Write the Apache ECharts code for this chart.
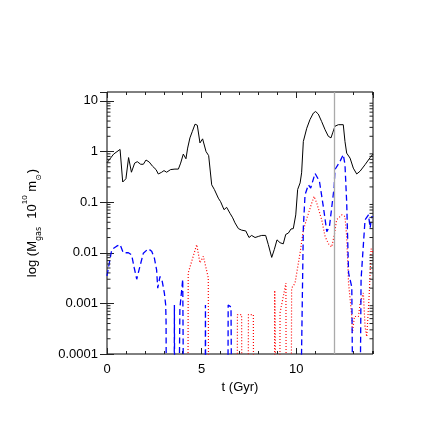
<!DOCTYPE html>
<html>
<head>
<meta charset="utf-8">
<script src="https://cdn.jsdelivr.net/npm/echarts@6/dist/echarts.min.js"></script>
<style>
html,body{margin:0;padding:0;background:#fff;}
#chart{width:436px;height:436px;}
</style>
</head>
<body>
<div id="chart"></div>
<script>
// ---- data ----
const xTickLabels = ['0', '5', '10'];
const yTickLabels = ['0.0001', '0.001', '0.01', '0.1', '1', '10'];
const yMinorTicks = [
  0.0002,0.0003,0.0004,0.0005,0.0006,0.0007,0.0008,0.0009,
  0.002,0.003,0.004,0.005,0.006,0.007,0.008,0.009,
  0.02,0.03,0.04,0.05,0.06,0.07,0.08,0.09,
  0.2,0.3,0.4,0.5,0.6,0.7,0.8,0.9,
  2,3,4,5,6,7,8,9
];
const markerT = 12;

const solidT = [0.0,0.35,0.69,0.83,1.0,1.14,1.29,1.46,1.6,1.78,1.92,2.06,2.23,2.41,2.59,2.71,2.89,3.01,3.15,3.36,3.59,3.77,3.89,4.03,4.17,4.26,4.38,4.51,4.65,4.77,4.91,5.05,5.23,5.37,5.53,5.67,5.88,6.0,6.18,6.32,6.5,6.64,6.76,6.94,7.11,7.33,7.5,7.64,7.82,7.99,8.17,8.38,8.52,8.7,8.84,8.98,9.14,9.31,9.44,9.58,9.72,9.84,9.93,9.97,10.07,10.2,10.28,10.37,10.55,10.72,10.9,11.02,11.16,11.34,11.52,11.69,11.83,11.92,12.04,12.22,12.48,12.57,12.66,12.84,13.01,13.19,13.37,13.63,13.9,14.05];
const solidVal = [0.60,0.89,1.10,0.25,0.29,0.76,0.39,0.59,0.63,0.56,0.56,0.68,0.62,0.51,0.44,0.36,0.39,0.42,0.39,0.44,0.45,0.45,0.59,0.89,0.72,1.17,1.86,2.51,3.47,3.31,1.48,1.78,1.0,0.83,0.22,0.178,0.12,0.102,0.071,0.079,0.060,0.049,0.039,0.030,0.028,0.027,0.020,0.022,0.020,0.021,0.022,0.022,0.0145,0.0081,0.0117,0.018,0.0158,0.015,0.023,0.0245,0.0295,0.030,0.0295,0.056,0.178,0.24,0.38,1.58,2.88,4.27,5.75,6.17,5.5,3.89,2.69,2.0,1.86,2.34,3.16,3.39,3.39,1.58,0.93,0.74,0.47,0.36,0.41,0.55,0.76,0.89];

const dashT = [0.0,0.25,0.51,0.69,0.86,1.13,1.30,1.44,1.57,1.74,1.92,2.18,2.36,2.50,2.62,2.68,2.80,2.92,3.03,3.10,3.12,3.14,
  3.54,3.56,3.58,
  3.78,3.85,4.0,4.04,4.06,
  5.18,5.20,5.22,
  6.38,6.40,6.55,6.60,
  10.20,10.37,10.46,10.64,10.76,10.99,11.22,11.43,11.61,11.75,12.0,12.04,12.3,12.48,12.57,12.66,12.76,12.93,13.0,
  13.35,13.42,13.63,13.81,13.9,13.98,14.05];
const dashVal = [0.0035,0.0115,0.0135,0.0145,0.010,0.010,0.0091,0.0050,0.0030,0.0054,0.0098,0.012,0.0107,0.0079,0.0046,0.0020,0.0034,0.0027,0.0016,0.00093,0.00044,1e-6,
  1e-6,0.00093,1e-6,
  1e-6,0.0008,0.003,0.0028,1e-6,
  1e-6,0.00093,1e-6,
  1e-6,0.00093,0.00085,1e-6,
  1e-6,0.031,0.14,0.22,0.19,0.37,0.26,0.08,0.026,0.033,0.2,0.44,0.63,0.87,0.55,0.1,0.004,0.0021,1e-6,
  1e-6,0.003,0.045,0.056,0.031,0.052,0.05];

const dotT = [0.0,4.27,4.29,4.74,4.91,5.09,5.35,5.37,
  6.87,6.89,7.11,7.13,
  7.45,7.47,7.73,7.75,
  8.84,8.86,8.93,8.95,
  9.12,9.14,9.45,9.47,
  9.73,9.75,9.93,10.2,10.37,10.55,10.81,10.94,11.08,11.16,11.34,11.52,11.7,11.87,12.01,12.13,12.4,12.57,12.66,12.76,12.93,12.96,13.07,13.28,13.37,13.54,13.63,13.72,13.85,13.95,14.05];
const dotVal = [1e-6,1e-6,0.004,0.0145,0.0063,0.0085,0.0032,1e-6,
  1e-6,0.0006,0.0006,1e-6,
  1e-6,0.0006,0.0006,1e-6,
  1e-6,0.0018,0.0018,1e-6,
  1e-6,0.00065,0.0025,1e-6,
  1e-6,0.002,0.0025,0.01,0.028,0.047,0.095,0.13,0.095,0.095,0.045,0.021,0.015,0.013,0.023,0.045,0.056,0.052,0.021,0.0025,0.00055,0.00026,0.00055,0.00055,0.001,0.0016,0.00035,0.00022,0.0015,0.012,0.010];

// ---- chart ----
const X_MIN = 0, X_MAX = 14.05, Y_MIN = 0.0001, Y_MAX = 15;
const pairs = (t, v) => t.map((x, i) => [x, v[i]]);
const FONT = 'Liberation Sans, Arial, sans-serif';
const tickColor = '#222';

const chart = echarts.init(document.getElementById('chart'), null, {renderer: 'canvas'});

function xAx(pos, interval, len, labels) {
  return {
    type: 'value', position: pos, min: X_MIN, max: X_MAX, interval: interval,
    axisLine: {show: false},
    axisTick: {show: true, inside: true, length: len, lineStyle: {color: tickColor, width: 1}},
    axisLabel: labels ? {
      show: true, fontSize: 13, color: '#000', fontFamily: FONT, margin: 9, showMaxLabel: false,
      formatter: v => { const i = xTickLabels.indexOf(String(v)); return i >= 0 ? xTickLabels[i] : ''; }
    } : {show: false},
    splitLine: {show: false},
    name: labels ? 't (Gyr)' : '',
    nameLocation: 'middle', nameGap: 24,
    nameTextStyle: {fontSize: 13, color: '#000', fontFamily: FONT}
  };
}
function yAx(pos, labels) {
  return {
    type: 'log', logBase: 10, position: pos, min: Y_MIN, max: Y_MAX, splitNumber: 5,
    axisLine: {show: false},
    axisTick: {show: true, inside: true, length: 7, lineStyle: {color: tickColor, width: 1}},
    axisLabel: labels ? {
      show: true, fontSize: 13, color: '#000', fontFamily: FONT, margin: 9, showMaxLabel: false,
      formatter: v => { const k = Math.round(Math.log10(v)) + 4; return (Math.abs(Math.log10(v) - (k - 4)) < 1e-6 && yTickLabels[k]) ? yTickLabels[k] : ''; }
    } : {show: false},
    splitLine: {show: false},
    minorTick: {show: false},
    name: labels ? '{n|log (M}{sub|gas}{n|  10}{sup|10}{n| m}{sub|⊙}{n|)}' : '',
    nameLocation: 'middle', nameGap: 64, nameRotate: 90,
    nameTextStyle: {
      fontFamily: FONT, color: '#000', fontSize: 13,
      rich: {
        n: {fontSize: 13, fontFamily: FONT, color: '#000', lineHeight: 22, verticalAlign: 'middle'},
        sub: {fontSize: 8, fontFamily: 'DejaVu Sans, ' + FONT, color: '#000', verticalAlign: 'bottom', lineHeight: 12, padding: [0, 1, 0, 0]},
        sup: {fontSize: 8, fontFamily: FONT, color: '#000', verticalAlign: 'top', lineHeight: 12}
      }
    }
  };
}

const option = {
  animation: false,
  backgroundColor: '#fff',
  grid: {left: 107, right: 63, top: 92, bottom: 82, show: true, borderColor: '#000', borderWidth: 1, backgroundColor: 'transparent'},
  xAxis: [xAx('bottom', 5, 6, true), xAx('bottom', 1, 3, false), xAx('top', 5, 6, false), xAx('top', 1, 3, false)],
  yAxis: [yAx('left', true), yAx('right', false)],
  series: [
    {
      type: 'custom', xAxisIndex: 0, yAxisIndex: 0, silent: true, z: 5,
      data: yMinorTicks.map(v => [X_MIN, v]),
      encode: {x: 0, y: 1},
      renderItem: (params, api) => {
        const v = api.value(1);
        const pl = api.coord([X_MIN, v]);
        const pr = api.coord([X_MAX, v]);
        const st = {stroke: tickColor, lineWidth: 1};
        return {type: 'group', children: [
          {type: 'line', shape: {x1: pl[0], y1: pl[1], x2: pl[0] + 3.5, y2: pl[1]}, style: st},
          {type: 'line', shape: {x1: pr[0], y1: pr[1], x2: pr[0] - 3.5, y2: pr[1]}, style: st}
        ]};
      }
    },
    {
      type: 'line', data: pairs(dotT, dotVal), showSymbol: false, symbol: 'none', clip: true, z: 2,
      lineStyle: {color: '#ff0000', width: 1.2, type: [1, 2]}
    },
    {
      type: 'line', data: pairs(dashT, dashVal), showSymbol: false, symbol: 'none', clip: true, z: 3,
      lineStyle: {color: '#0000ff', width: 1.3, type: [6, 3.5]}
    },
    {
      type: 'line', data: pairs(solidT, solidVal), showSymbol: false, symbol: 'none', clip: true, z: 4,
      lineStyle: {color: '#000', width: 1},
      markLine: {
        silent: true, symbol: 'none', animation: false,
        label: {show: false},
        lineStyle: {color: '#aaaaaa', width: 1.3, type: 'solid'},
        data: [{xAxis: markerT}]
      }
    }
  ]
};
chart.setOption(option);
</script>
</body>
</html>
